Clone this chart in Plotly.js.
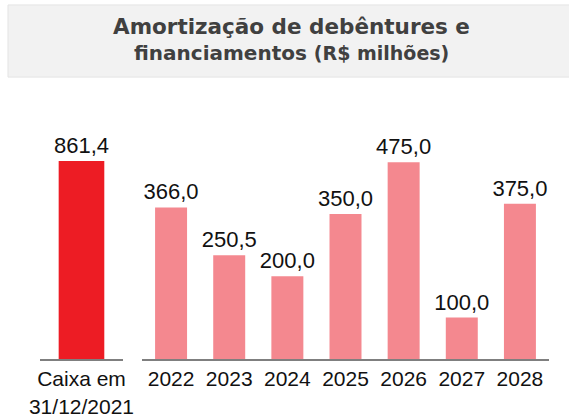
<!DOCTYPE html>
<html><head><meta charset="utf-8">
<script src="https://cdn.plot.ly/plotly-3.0.1.min.js"></script>
<style>html,body{margin:0;padding:0;background:#fff}#c{width:569px;height:418px}</style>
</head><body><div id="c"></div>
<script>
const cashLabel = ["Caixa em<br>31/12/2021"];
const cashValue = [861.4];
const years = ["2022","2023","2024","2025","2026","2027","2028"];
const amortValues = [366.0, 250.5, 200.0, 350.0, 475.0, 100.0, 375.0];
const titleLine1 = "Amortização de debêntures e";
const titleLine2 = "<span style='font-size:20px'>financiamentos</span> <span style='font-size:19px'>(R$ milhões)</span>";

const fmt = v => v.toFixed(1).replace('.', ',');
const FONT = "Liberation Sans, Arial, sans-serif";
const TFONT = "DejaVu Sans, sans-serif";

const data = [
  {type:'bar', x:cashLabel, y:cashValue, xaxis:'x', yaxis:'y',
   marker:{color:'#ED1C24'}, text:cashValue.map(fmt), textposition:'outside', constraintext:'none',
   textfont:{family:FONT,size:22,color:'#111'}, cliponaxis:false, hoverinfo:'none'},
  {type:'bar', x:years, y:amortValues, xaxis:'x2', yaxis:'y2',
   marker:{color:'#F4888F'}, text:amortValues.map(fmt), textposition:'outside', constraintext:'none',
   textfont:{family:FONT,size:22,color:'#111'}, cliponaxis:false, hoverinfo:'none'}
];

const layout = {
  width:569, height:418,
  margin:{l:40, r:20, t:130, b:59},
  paper_bgcolor:'#fff', plot_bgcolor:'#fff',
  showlegend:false, bargap:0.45,
  font:{family:FONT, color:'#111'},
  xaxis:{domain:[0,0.163], showline:true, linecolor:'#7f7f7f', linewidth:2,
         ticks:'', tickangle:0, tickfont:{family:FONT,size:21,color:'#111'}, fixedrange:true},
  xaxis2:{domain:[0.2004,1], anchor:'y2', showline:true, linecolor:'#7f7f7f', linewidth:2,
          ticks:'', tickangle:0, tickmode:'array', tickvals:years, ticktext:years,
          tickfont:{family:FONT,size:21,color:'#111'}, fixedrange:true},
  yaxis:{range:[0,996], visible:false, showgrid:false, zeroline:false},
  yaxis2:{range:[0,553], anchor:'x2', visible:false, showgrid:false, zeroline:false, overlaying:'y'},
  shapes:[{type:'rect', xref:'paper', yref:'paper', x0:-0.0629, x1:1.05, y0:1.231, y1:1.546,
           fillcolor:'#f2f2f2', line:{color:'#e4e4e4', width:1}, layer:'below'}],
  annotations:[
    {xref:'paper', yref:'paper', x:0.494, y:1.454, yanchor:'middle', xanchor:'center', showarrow:false,
     text:'<b>'+titleLine1+'</b>', font:{family:TFONT,size:21.5,color:'#404040'}},
    {xref:'paper', yref:'paper', x:0.494, y:1.336, yanchor:'middle', xanchor:'center', showarrow:false,
     text:'<b>'+titleLine2+'</b>', font:{family:TFONT,size:20,color:'#404040'}}
  ]
};
Plotly.newPlot('c', data, layout, {displayModeBar:false, staticPlot:true});
</script></body></html>
